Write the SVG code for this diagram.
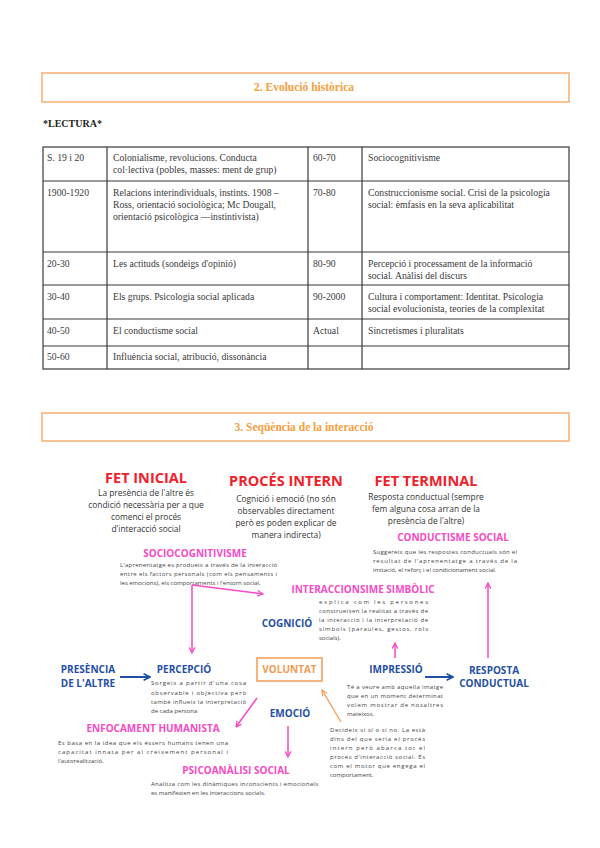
<svg xmlns="http://www.w3.org/2000/svg" width="600" height="848" viewBox="0 0 600 848">
<style>
.hbox{fill:#fff;stroke:#f7b47a;stroke-width:1.6}
.htitle{font-family:"Liberation Serif",serif;font-weight:bold;font-size:11.5px;fill:#f5a040;text-anchor:middle}
.lect{font-family:"Liberation Serif",serif;font-weight:bold;font-size:10px;fill:#222}
.grid{stroke:#3a3a3a;stroke-width:1.2;fill:none}
.cell{font-family:"Liberation Serif",serif;font-size:9.7px;fill:#3a3a3a}
.red{font-family:"Open Sans",sans-serif;font-weight:bold;font-size:14.5px;fill:#f0212b;text-anchor:middle}
.desc{font-family:"Open Sans",sans-serif;font-size:8.4px;fill:#333;text-anchor:middle}
.pink{font-family:"Open Sans",sans-serif;font-weight:bold;font-size:10px;fill:#f54bc6;text-anchor:middle}
.blue{font-family:"Open Sans",sans-serif;font-weight:bold;font-size:10px;fill:#1f4fa3;text-anchor:middle}
.orange{font-family:"Open Sans",sans-serif;font-weight:bold;font-size:10px;fill:#f59a52;text-anchor:middle}
.small{font-family:"Open Sans",sans-serif;font-size:6px;fill:#444}
.pl{stroke:#f54bc6;stroke-width:1.5;fill:none}
.bl{stroke:#1f4fa3;stroke-width:2;fill:none}
.ol{stroke:#f59a52;stroke-width:1.3;fill:none}
</style>
<defs>
<marker id="mp" viewBox="0 0 10 10" refX="9" refY="5" markerWidth="7" markerHeight="7" markerUnits="userSpaceOnUse" orient="auto"><path d="M1,1 L9,5 L1,9" fill="none" stroke="#f54bc6" stroke-width="1.8"/></marker>
<marker id="mb" viewBox="0 0 10 10" refX="9" refY="5" markerWidth="8" markerHeight="8" markerUnits="userSpaceOnUse" orient="auto"><path d="M1,1 L9,5 L1,9" fill="none" stroke="#1f4fa3" stroke-width="2"/></marker>
<marker id="mo" viewBox="0 0 10 10" refX="9" refY="5" markerWidth="7" markerHeight="7" markerUnits="userSpaceOnUse" orient="auto"><path d="M1,1 L9,5 L1,9" fill="none" stroke="#f59a52" stroke-width="1.6"/></marker>
</defs>
<rect width="600" height="848" fill="#fff"/>

<g id="header1">
<rect class="hbox" x="42" y="73" width="527" height="29"/>
<text class="htitle" x="304" y="91">2. Evolució històrica</text>
</g>
<text class="lect" x="43" y="127">*LECTURA*</text>

<g id="table">
<rect class="grid" x="43" y="147" width="526" height="222"/>
<line class="grid" x1="107" y1="147" x2="107" y2="369"/>
<line class="grid" x1="308" y1="147" x2="308" y2="369"/>
<line class="grid" x1="362" y1="147" x2="362" y2="369"/>
<line class="grid" x1="43" y1="181" x2="569" y2="181"/>
<line class="grid" x1="43" y1="252" x2="569" y2="252"/>
<line class="grid" x1="43" y1="285" x2="569" y2="285"/>
<line class="grid" x1="43" y1="319" x2="569" y2="319"/>
<line class="grid" x1="43" y1="346" x2="569" y2="346"/>
<g class="cell">
<text x="47" y="161">S. 19 i 20</text>
<text x="113" y="161">Colonialisme, revolucions. Conducta</text>
<text x="113" y="173">col·lectiva (pobles, masses: ment de grup)</text>
<text x="313" y="161">60-70</text>
<text x="368" y="161">Sociocognitivisme</text>
<text x="47" y="196">1900-1920</text>
<text x="113" y="196">Relacions interindividuals, instints. 1908 –</text>
<text x="113" y="208">Ross, orientació sociològica; Mc Dougall,</text>
<text x="113" y="220">orientació psicològica —instintivista)</text>
<text x="313" y="196">70-80</text>
<text x="368" y="196">Construccionisme social. Crisi de la psicologia</text>
<text x="368" y="208">social: èmfasis en la seva aplicabilitat</text>
<text x="47" y="267">20-30</text>
<text x="113" y="267">Les actituds (sondeigs d'opinió)</text>
<text x="313" y="267">80-90</text>
<text x="368" y="267">Percepció i processament de la informació</text>
<text x="368" y="279">social. Anàlisi del discurs</text>
<text x="47" y="300">30-40</text>
<text x="113" y="300">Els grups. Psicologia social aplicada</text>
<text x="313" y="300">90-2000</text>
<text x="368" y="300">Cultura i comportament: Identitat. Psicologia</text>
<text x="368" y="312">social evolucionista, teories de la complexitat</text>
<text x="47" y="334">40-50</text>
<text x="113" y="334">El conductisme social</text>
<text x="313" y="334">Actual</text>
<text x="368" y="334">Sincretismes i pluralitats</text>
<text x="47" y="360">50-60</text>
<text x="113" y="360">Influència social, atribució, dissonància</text>
</g>
</g>

<g id="header2">
<rect class="hbox" x="42" y="413" width="527" height="28"/>
<text class="htitle" x="304" y="431">3. Seqüència de la interacció</text>
</g>

<g id="fet-inicial">
<text class="red" x="146" y="483">FET INICIAL</text>
<text class="desc" x="146" y="496">La presència de l'altre és</text>
<text class="desc" x="146" y="508">condició necessària per a que</text>
<text class="desc" x="146" y="520">comenci el procés</text>
<text class="desc" x="146" y="532">d'interacció social</text>
</g>
<g id="proces-intern">
<text class="red" x="286" y="486">PROCÉS INTERN</text>
<text class="desc" x="286" y="502">Cognició i emoció (no són</text>
<text class="desc" x="286" y="514">observables directament</text>
<text class="desc" x="286" y="526">però es poden explicar de</text>
<text class="desc" x="286" y="538">manera indirecta)</text>
</g>
<g id="fet-terminal">
<text class="red" x="426" y="486">FET TERMINAL</text>
<text class="desc" x="426" y="500">Resposta conductual (sempre</text>
<text class="desc" x="426" y="512">fem alguna cosa arran de la</text>
<text class="desc" x="426" y="524">presència de l'altre)</text>
</g>

<g id="conductisme-social">
<text class="pink" x="453" y="541">CONDUCTISME SOCIAL</text>
<text class="small" x="373" y="554" textLength="144" lengthAdjust="spacing">Suggereix que les respostes conductuals són el</text>
<text class="small" x="373" y="563" textLength="144" lengthAdjust="spacing">resultat de l'aprenentatge a través de la</text>
<text class="small" x="373" y="572">imitació, el reforç i el condicionament social.</text>
</g>
<g id="sociocognitivisme">
<text class="pink" x="195" y="557">SOCIOCOGNITIVISME</text>
<text class="small" x="120" y="567" textLength="157" lengthAdjust="spacing">L'aprenentatge es produeix a través de la interacció</text>
<text class="small" x="120" y="576" textLength="157" lengthAdjust="spacing">entre els factors personals (com els pensaments i</text>
<text class="small" x="120" y="585">les emocions), els comportaments i l'entorn social.</text>
</g>
<g id="interaccionisme">
<text class="pink" x="363" y="593">INTERACCIONSIME SIMBÒLIC</text>
<text class="small" x="319" y="604" textLength="109" lengthAdjust="spacing">explica com les persones</text>
<text class="small" x="319" y="613" textLength="109" lengthAdjust="spacing">construeixen la realitat a través de</text>
<text class="small" x="319" y="622" textLength="109" lengthAdjust="spacing">la interacció i la interpretació de</text>
<text class="small" x="319" y="631" textLength="109" lengthAdjust="spacing">símbols (paraules, gestos, rols</text>
<text class="small" x="319" y="640">socials).</text>
</g>
<g id="cognicio"><text class="blue" x="287" y="627">COGNICIÓ</text></g>

<g id="presencia">
<text class="blue" x="88" y="673">PRESÈNCIA</text>
<text class="blue" x="88" y="687">DE L'ALTRE</text>
</g>
<g id="percepcio">
<text class="blue" x="184" y="673">PERCEPCIÓ</text>
<text class="small" x="151" y="685" textLength="95" lengthAdjust="spacing">Sorgeix a partir d'una cosa</text>
<text class="small" x="151" y="695" textLength="95" lengthAdjust="spacing">observable i objectiva però</text>
<text class="small" x="151" y="704" textLength="95" lengthAdjust="spacing">també influeix la interpretació</text>
<text class="small" x="151" y="713">de cada persona</text>
</g>
<g id="voluntat">
<rect x="257" y="658" width="65" height="23" fill="#fff" stroke="#f59a52" stroke-width="1.5"/>
<text class="orange" x="289.5" y="673">VOLUNTAT</text>
</g>
<g id="voluntat-desc">
<text class="small" x="330" y="732" textLength="95" lengthAdjust="spacing">Decideix si sí o si no. La està</text>
<text class="small" x="330" y="741" textLength="95" lengthAdjust="spacing">dins del que seria el procés</text>
<text class="small" x="330" y="750" textLength="95" lengthAdjust="spacing">intern però abarca tot el</text>
<text class="small" x="330" y="759" textLength="95" lengthAdjust="spacing">procés d'interacció social. És</text>
<text class="small" x="330" y="768" textLength="95" lengthAdjust="spacing">com el motor que engega el</text>
<text class="small" x="330" y="777">comportament.</text>
</g>
<g id="impressio">
<text class="blue" x="396" y="673">IMPRESSIÓ</text>
<text class="small" x="347" y="689" textLength="96" lengthAdjust="spacing">Té a veure amb aquella imatge</text>
<text class="small" x="347" y="698" textLength="96" lengthAdjust="spacing">que en un moment determinat</text>
<text class="small" x="347" y="707" textLength="96" lengthAdjust="spacing">volem mostrar de nosaltres</text>
<text class="small" x="347" y="716">mateixos.</text>
</g>
<g id="resposta">
<text class="blue" x="494" y="674">RESPOSTA</text>
<text class="blue" x="494" y="687">CONDUCTUAL</text>
</g>
<g id="emocio"><text class="blue" x="290" y="717">EMOCIÓ</text></g>
<g id="enfocament">
<text class="pink" x="153" y="732">ENFOCAMENT HUMANISTA</text>
<text class="small" x="58" y="745" textLength="170" lengthAdjust="spacing">Es basa en la idea que els éssers humans tenen una</text>
<text class="small" x="58" y="754" textLength="170" lengthAdjust="spacing">capacitat innata per al creixement personal i</text>
<text class="small" x="58" y="763">l'autorealització.</text>
</g>
<g id="psicoanalisi">
<text class="pink" x="236" y="774">PSICOANÀLISI SOCIAL</text>
<text class="small" x="151" y="786" textLength="167" lengthAdjust="spacing">Analitza com les dinàmiques inconscients i emocionals</text>
<text class="small" x="151" y="795">es manifesten en les interaccions socials.</text>
</g>

<g id="connectors">
<path class="pl" d="M192,585 L263,594" marker-end="url(#mp)"/>
<path class="pl" d="M192,585 L192,653" marker-end="url(#mp)"/>
<path class="pl" d="M488,658 L488,583" marker-end="url(#mp)"/>
<path class="pl" d="M395,658 L395,643" marker-end="url(#mp)"/>
<path class="pl" d="M257,698 L236,727" marker-end="url(#mp)"/>
<path class="pl" d="M288,726 L288,757" marker-end="url(#mp)"/>
<path class="ol" d="M341,722 L322,690" marker-end="url(#mo)"/>
<path class="bl" d="M120,677 L150,677" marker-end="url(#mb)"/>
<path class="bl" d="M425,677 L453,677" marker-end="url(#mb)"/>
</g>
</svg>
